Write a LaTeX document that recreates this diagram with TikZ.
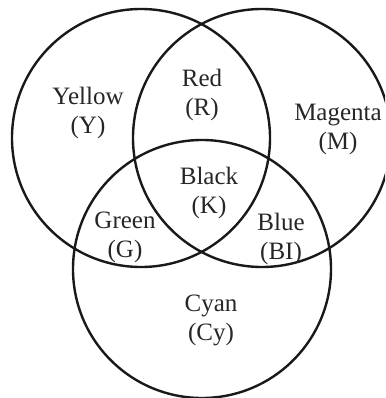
\documentclass[tikz,border=0pt]{standalone}
\usepackage{fontspec}
\setmainfont{Liberation Serif}
\begin{document}
\begin{tikzpicture}[x=1pt,y=-1pt,
  ring/.style={draw=black!90,line width=2.4pt},
  lbl/.style={align=center,inner sep=0pt,text=black!85,font=\fontsize{25}{29}\selectfont}]
\useasboundingbox (0,0) rectangle (385,398);
\clip (0,0) rectangle (385,398);
\coordinate (cy) at (141,138);
\coordinate (cm) at (262,138);
\coordinate (cc) at (202,269);
\draw[ring] (cy) circle[radius=129pt];
\draw[ring] (cm) circle[radius=129pt];
\draw[ring] (cc) circle[radius=129pt];
\node[lbl] (yellow) at (88,113) {Yellow\\(Y)};
\node[lbl] (red) at (202,95) {Red\\(R)};
\node[lbl] (magenta) at (338,129) {Magenta\\(M)};
\node[lbl] (black) at (209,193) {Black\\(K)};
\node[lbl] (green) at (125,237.5) {Green\\(G)};
\node[lbl] (blue) at (281,239) {Blue\\(BI)};
\node[lbl] (cyan) at (211,320) {Cyan\\(Cy)};
\end{tikzpicture}
\end{document}
